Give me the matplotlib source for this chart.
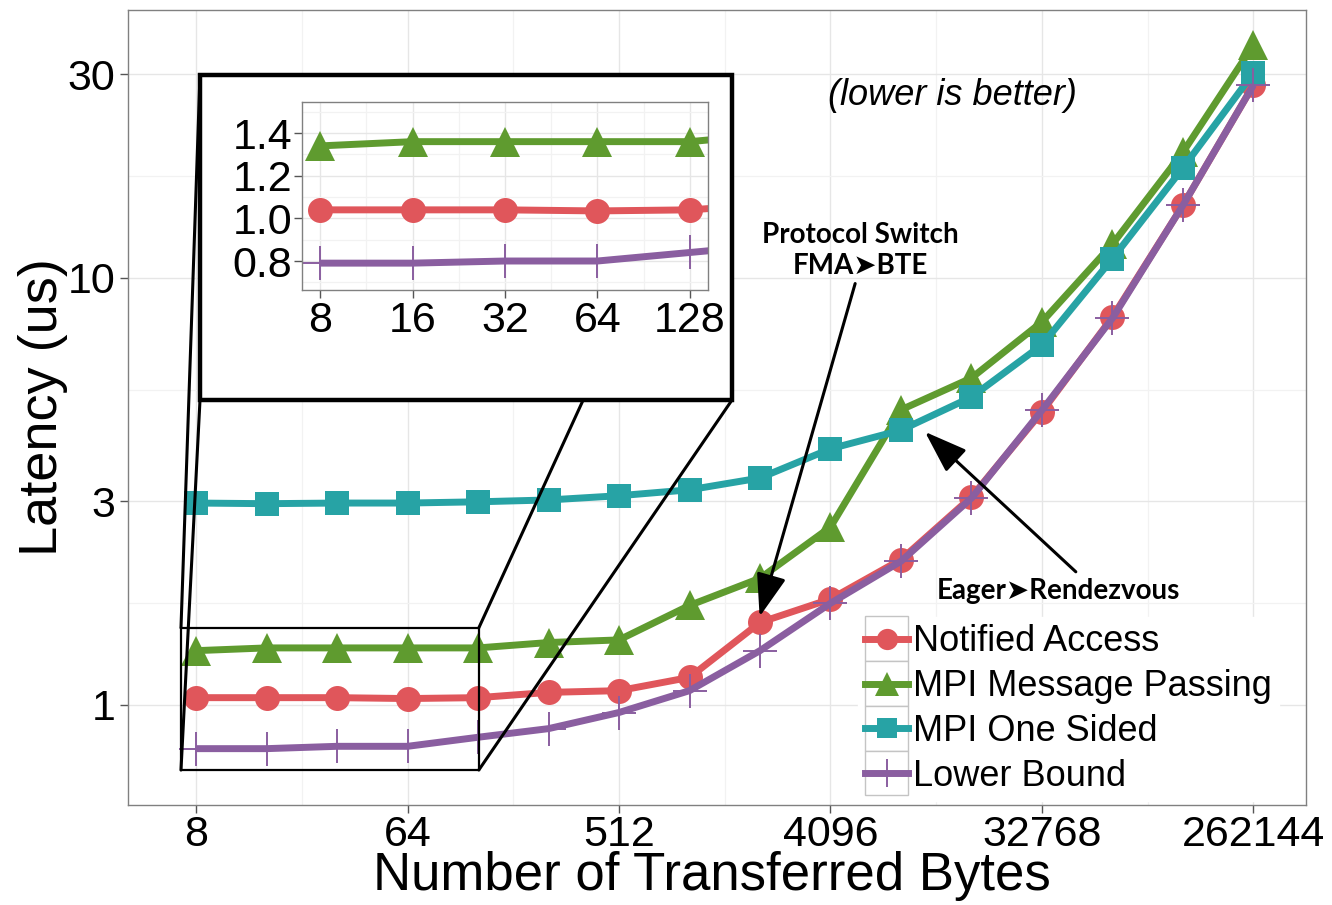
import matplotlib
matplotlib.use("Agg")
import matplotlib.pyplot as plt
from matplotlib.patches import Rectangle, ConnectionPatch
from matplotlib.lines import Line2D
from matplotlib.legend_handler import HandlerLine2D
from matplotlib.ticker import FixedLocator, NullFormatter
import numpy as np

plt.rcParams['font.family'] = ['Liberation Sans', 'DejaVu Sans']

# ---------------- data ----------------
sizes = [8, 16, 32, 64, 128, 256, 512, 1024, 2048, 4096, 8192, 16384,
         32768, 65536, 131072, 262144]
notified = [1.04, 1.04, 1.04, 1.035, 1.04, 1.07, 1.08, 1.16, 1.56, 1.77,
            2.19, 3.07, 4.86, 8.1, 14.8, 28.3]
mpi_mp = [1.34, 1.36, 1.36, 1.36, 1.36, 1.40, 1.42, 1.71, 1.98, 2.61,
          4.91, 5.83, 7.89, 12.0, 19.7, 35.1]
mpi_os = [2.97, 2.96, 2.97, 2.97, 2.99, 3.02, 3.09, 3.19, 3.40, 3.98,
          4.40, 5.26, 6.97, 11.1, 18.1, 30.2]
lower = [0.79, 0.79, 0.80, 0.80, 0.84, 0.88, 0.96, 1.08, 1.34, 1.73,
         2.17, 3.05, 4.9, 8.05, 14.8, 28.3]

series_names = ["Notified Access", "MPI Message Passing", "MPI One Sided", "Lower Bound"]
x_ticks = [8, 64, 512, 4096, 32768, 262144]
y_ticks = [1, 3, 10, 30]
inset_x_ticks = [8, 16, 32, 64, 128]
inset_y_ticks = [0.8, 1.0, 1.2, 1.4]

# ---------------- style ----------------
C_RED = "#E0565B"
C_GREEN = "#5F9B2F"
C_TEAL = "#27A3A5"
C_PURPLE = "#8A5EA0"
styles = [
    dict(color=C_RED, marker='o', ms=18, mew=0),
    dict(color=C_GREEN, marker='^', ms=21, mew=0),
    dict(color=C_TEAL, marker='s', ms=17, mew=0),
    dict(color=C_PURPLE, marker='+', ms=24, mew=1.4),
]
all_series = [notified, mpi_mp, mpi_os, lower]

W, H = 1332, 905
fig = plt.figure(figsize=(W / 100, H / 100), dpi=100)

def fx(px):
    return px / W

def fy(py):
    return 1 - py / H

ax = fig.add_axes([fx(128), fy(805), fx(1306) - fx(128), fy(10) - fy(805)])
ax.set_xscale('log', base=2)
ax.set_yscale('log')
ax.set_xlim(2 ** 2.035, 2 ** 18.745)
ax.set_ylim(0.583, 42.4)

grid_major = "#E6E6E6"
grid_minor = "#F2F2F2"

def style_axes(a, fs):
    for s in a.spines.values():
        s.set_color("#808080")
        s.set_linewidth(1.0)
    a.tick_params(which='major', length=6, width=1, color="#555555",
                  labelsize=fs, labelcolor='black', pad=3)
    a.tick_params(which='minor', length=0)
    a.grid(True, which='major', color=grid_major, lw=1.0)
    a.grid(True, which='minor', color=grid_minor, lw=0.9)
    a.set_axisbelow(True)

ax.xaxis.set_major_locator(FixedLocator(x_ticks))
ax.set_xticklabels([str(v) for v in x_ticks])
ax.xaxis.set_minor_locator(FixedLocator([2 ** (4.5 + 3 * k) for k in range(5)]))
ax.xaxis.set_minor_formatter(NullFormatter())
ax.yaxis.set_major_locator(FixedLocator(y_ticks))
ax.set_yticklabels([str(v) for v in y_ticks])
ax.yaxis.set_minor_locator(FixedLocator([np.sqrt(3), np.sqrt(30), np.sqrt(300)]))
ax.yaxis.set_minor_formatter(NullFormatter())
style_axes(ax, 31)
ax.tick_params(axis='x', pad=1)

for name, vals, st in zip(series_names, all_series, styles):
    ax.plot(sizes, vals, lw=5, label=name, solid_capstyle='butt',
            markeredgecolor=st['color'], **st)

fig.text(fx(712), 0.004, "Number of Transferred Bytes", fontsize=38,
         ha='center', va='bottom')
ax.set_ylabel("Latency (us)", fontsize=39, labelpad=0)


# legend with ggplot-like key boxes
class KeyBoxHandler(HandlerLine2D):
    def create_artists(self, legend, orig_handle, xdescent, ydescent, width,
                       height, fontsize, trans):
        arts = super().create_artists(legend, orig_handle, xdescent, ydescent,
                                      width, height, fontsize, trans)
        extra = 7.0
        box = Rectangle((-xdescent, -ydescent - extra), width, height + 2 * extra,
                        facecolor='white', edgecolor='#C4C4C4', lw=1.0,
                        transform=trans)
        return [box] + list(arts)


LEG_FS = 26
handles = [Line2D([0], [0], lw=5, markeredgecolor=st['color'], **st) for st in styles]
for h in handles:
    h.set_markersize(h.get_markersize() * 0.85)
leg = ax.legend(handles, series_names, loc='lower right', bbox_to_anchor=(0.983, -0.004),
                fontsize=LEG_FS, frameon=True, fancybox=False, edgecolor='white',
                framealpha=1, handlelength=1.2, handletextpad=0.12,
                labelspacing=0.27, borderpad=0.2, borderaxespad=0.2,
                handler_map={Line2D: KeyBoxHandler()})

# annotations
ax.text(0.6995, 0.893, "(lower is better)", transform=ax.transAxes, fontsize=26,
        style='italic', ha='center', va='center')
ax.text(5472, 11.6, "Protocol Switch\nFMA\u27a4BTE", fontsize=20, fontweight='bold',
        ha='center', va='center', linespacing=1.2, family=['Lato', 'DejaVu Sans'])
ax.text(38350, 1.85, "Eager\u27a4Rendezvous", fontsize=20, fontweight='bold',
        ha='center', va='center', family=['Lato', 'DejaVu Sans'])
arrow_kw = dict(arrowstyle='-|>,head_length=1.2,head_width=0.42', lw=2.2,
                color='black', shrinkA=0, shrinkB=0, mutation_scale=22)
ax.annotate("", xy=(2040, 1.61), xytext=(5220, 9.7), arrowprops=arrow_kw, zorder=6)
ax.annotate("", xy=(10370, 4.36), xytext=(45700, 2.05), arrowprops=arrow_kw, zorder=6)

# zoom rectangle in main axes
zx0, zx1, zy0, zy1 = 6.9, 129.0, 0.704, 1.515
ax.add_patch(Rectangle((zx0, zy0), zx1 - zx0, zy1 - zy0, fill=False, ec='black',
                       lw=1.6, zorder=5))

# big inset frame in figure coordinates
bx0, bx1, by0, by1 = fx(200), fx(732), fy(400), fy(75)
pairs = [((zx0, zy1), (bx0, by1)), ((zx0, zy0), (bx0, by0)),
         ((zx1, zy1), (bx1, by1)), ((zx1, zy0), (bx1, by0))]
for a, b in pairs:
    con = ConnectionPatch(xyA=a, coordsA=ax.transData, xyB=b, coordsB=fig.transFigure,
                          color='black', lw=2.2, zorder=2)
    fig.add_artist(con)
frame = Rectangle((bx0, by0), bx1 - bx0, by1 - by0, transform=fig.transFigure,
                  facecolor='white', edgecolor='black', lw=3.2, zorder=3)
fig.add_artist(frame)

# inset axes
ins = fig.add_axes([fx(302), fy(290), fx(708) - fx(302), fy(102) - fy(290)])
ins.set_zorder(5)
ins.set_xscale('log', base=2)
ins.set_xlim(2 ** 2.805, 2 ** 7.195)
ins.set_ylim(0.664, 1.546)
ins.xaxis.set_major_locator(FixedLocator(inset_x_ticks))
ins.set_xticklabels([str(v) for v in inset_x_ticks])
ins.xaxis.set_minor_locator(FixedLocator([2 ** (3.5 + k) for k in range(4)]))
ins.xaxis.set_minor_formatter(NullFormatter())
ins.yaxis.set_major_locator(FixedLocator(inset_y_ticks))
ins.set_yticklabels([f"{v:.1f}" for v in inset_y_ticks])
ins.yaxis.set_minor_locator(FixedLocator([0.7, 0.9, 1.1, 1.3, 1.5]))
ins.yaxis.set_minor_formatter(NullFormatter())
style_axes(ins, 31)
ins.tick_params(axis='y', pad=1)
ins.tick_params(axis='x', pad=2)
for name, vals, st in zip(series_names, all_series, styles):
    ins.plot(sizes, vals, lw=5, solid_capstyle='butt',
             markeredgecolor=st['color'], clip_on=True, **st)

fig.savefig("out.png", dpi=100)
